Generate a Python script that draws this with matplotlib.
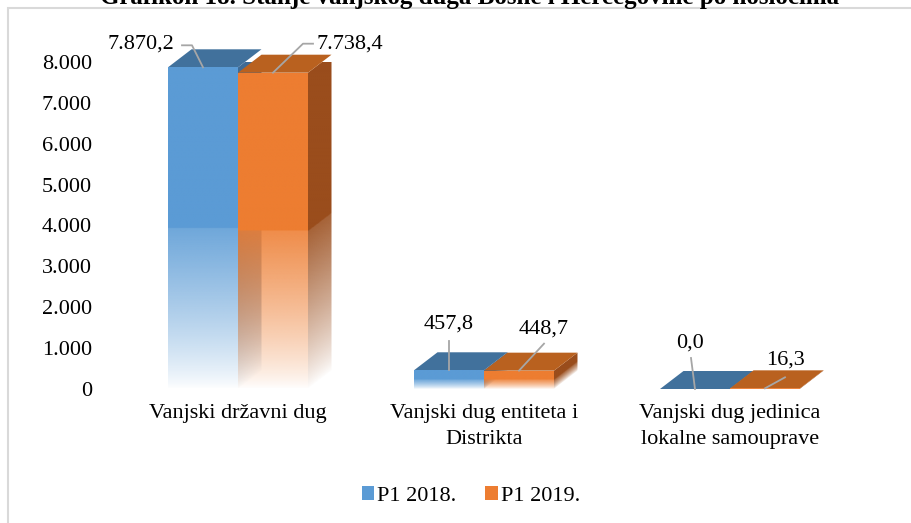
import numpy as np
import matplotlib
matplotlib.use("Agg")
import matplotlib.pyplot as plt
from matplotlib.patches import Polygon, Rectangle, Patch
from matplotlib.colors import to_rgb

# ---------------- data ----------------
categories = ["Vanjski državni dug", "Vanjski dug entiteta i\nDistrikta",
              "Vanjski dug jedinica\nlokalne samouprave"]
series_names = ["P1 2018.", "P1 2019."]
values_2018 = [7870.2, 457.8, 0.0]
values_2019 = [7738.4, 448.7, 16.3]
labels_2018 = ["7.870,2", "457,8", "0,0"]
labels_2019 = ["7.738,4", "448,7", "16,3"]
yticks = [0, 1000, 2000, 3000, 4000, 5000, 6000, 7000, 8000]
ytick_labels = ["0", "1.000", "2.000", "3.000", "4.000", "5.000", "6.000", "7.000", "8.000"]
title = "Grafikon 18. Stanje vanjskog duga Bosne i Hercegovine po nosiocima"

# ---------------- style ----------------
FONT = "Liberation Serif"
plt.rcParams["font.family"] = [FONT, "DejaVu Serif"]
FS = 16
W, H = 912, 523
fig = plt.figure(figsize=(W / 100, H / 100), dpi=100)

ax_left, ax_right, ax_zero, ax_top = 115, 853, 389, 62
ax = fig.add_axes([ax_left / W, (H - ax_zero) / H, (ax_right - ax_left) / W, (ax_zero - ax_top) / H])
ymax = 8000
px_x = 3.0 / (ax_right - ax_left)
px_y = ymax / (ax_zero - ax_top)

bar_w = 70 * px_x
dx = 23.5 * px_x
dy = 18 * px_y

colors = {
    0: dict(front="#5B9BD5", top="#41719C", side="#3E6B96"),
    1: dict(front="#ED7D31", top="#B9611F", side="#9A4D1C"),
}


def alpha_profile(t):
    t = np.clip(t, 0, 1)
    a = np.where(t < 0.5, 1.0, 0.88 * np.clip((1 - t) / 0.5, 0, 1) ** 0.8)
    return a


def grad_face(poly, color, xr, v, slanted, z):
    poly = np.array(poly)
    x0, x1 = poly[:, 0].min(), poly[:, 0].max()
    y0, y1 = poly[:, 1].min(), poly[:, 1].max()
    nx, ny = 60, 500
    xs = np.linspace(x0, x1, nx)
    ys = np.linspace(y0, y1, ny)
    X, Y = np.meshgrid(xs, ys)
    if slanted:
        yb = (X - xr) / dx * dy
    else:
        yb = np.zeros_like(X)
    t = (v + yb - Y) / max(v, 1e-9)
    A = alpha_profile(t)
    rgb = to_rgb(color)
    img = np.zeros((ny, nx, 4))
    img[..., 0], img[..., 1], img[..., 2] = rgb
    img[..., 3] = A
    patch = Polygon(poly, closed=True, facecolor="none", edgecolor="none", transform=ax.transData)
    ax.add_patch(patch)
    im = ax.imshow(img, extent=[x0, x1, y0, y1], origin="lower", aspect="auto",
                   interpolation="bilinear", zorder=z)
    im.set_clip_path(patch)


z = 2
for i in range(len(categories)):
    for s, vals in enumerate([values_2018, values_2019]):
        v = vals[i]
        xl = i - bar_w if s == 0 else i
        xr = xl + bar_w
        c = colors[s]
        if v > 0:
            side = [(xr, 0), (xr + dx, dy), (xr + dx, v + dy), (xr, v)]
            grad_face(side, c["side"], xr, v, True, z); z += 1
        top = [(xl, v), (xr, v), (xr + dx, v + dy), (xl + dx, v + dy)]
        ax.add_patch(Polygon(top, closed=True, facecolor=c["top"], edgecolor="none",
                             zorder=z, clip_on=False)); z += 1
        if v > 0:
            front = [(xl, 0), (xr, 0), (xr, v), (xl, v)]
            grad_face(front, c["front"], xr, v, False, z); z += 1

ax.set_xlim(-0.5, 2.5)
ax.set_ylim(0, ymax)
for sp in ax.spines.values():
    sp.set_visible(False)
ax.set_yticks(yticks)
ax.set_yticklabels(ytick_labels, fontsize=FS)
ax.tick_params(axis="y", length=0, pad=16.5)
ax.set_xticks(range(len(categories)))
ax.set_xticklabels(categories, fontsize=FS, linespacing=1.5)
ax.tick_params(axis="x", length=0, pad=11)

# ---------------- data labels with leader lines ----------------
lead_col = "#A6A6A6"
label_layout = {
    (0, 0): ([(0, 0), (-11, 22), (-21, 22)], (-29, 23), "right"),
    (1, 0): ([(0, 0), (30, 29), (40, 29)], (44, 29), "left"),
    (0, 1): ([(0, 0), (0, 29)], (0, 46), "center"),
    (1, 1): ([(0, 0), (25, 27)], (25, 42), "center"),
    (0, 2): ([(0, 0), (-4, 31)], (-5, 46), "center"),
    (1, 2): ([(0, 0), (20, 11)], (20, 28), "center"),
}
for s, (vals, labs) in enumerate([(values_2018, labels_2018), (values_2019, labels_2019)]):
    for i, v in enumerate(vals):
        cx = i - bar_w / 2 if s == 0 else i + bar_w / 2
        pts, toff, ha = label_layout[(s, i)]
        ax_disp = ax.transData.transform((cx, v))
        inv = ax.transData.inverted()
        pl = np.array([inv.transform((ax_disp[0] + ox, ax_disp[1] + oy)) for ox, oy in pts])
        ax.plot(pl[:, 0], pl[:, 1], color=lead_col, lw=1.3, zorder=100, clip_on=False)
        ax.annotate(labs[i], xy=(cx, v), xytext=(toff[0] * 0.72, toff[1] * 0.72),
                    textcoords="offset points", ha=ha, va="center", fontsize=FS, zorder=101)

# ---------------- title, frame, legend ----------------
fig.text(470 / W, (H - 4) / H, title, ha="center", va="baseline", fontsize=18,
         fontweight="bold")
fig.patches.append(Rectangle((8 / W, -0.05), 1.1, (H - 8) / H + 0.05, transform=fig.transFigure,
                             facecolor="none", edgecolor="#D9D9D9", lw=1.5, zorder=0))
handles = [Patch(facecolor=colors[0]["front"]), Patch(facecolor=colors[1]["front"])]
fig.legend(handles, series_names, loc="center", bbox_to_anchor=(471 / W, 1 - 496 / H),
           ncol=2, frameon=False, fontsize=FS, handlelength=0.55, handleheight=0.55,
           handletextpad=0.15, columnspacing=1.3)

fig.savefig("out.png", dpi=100)
